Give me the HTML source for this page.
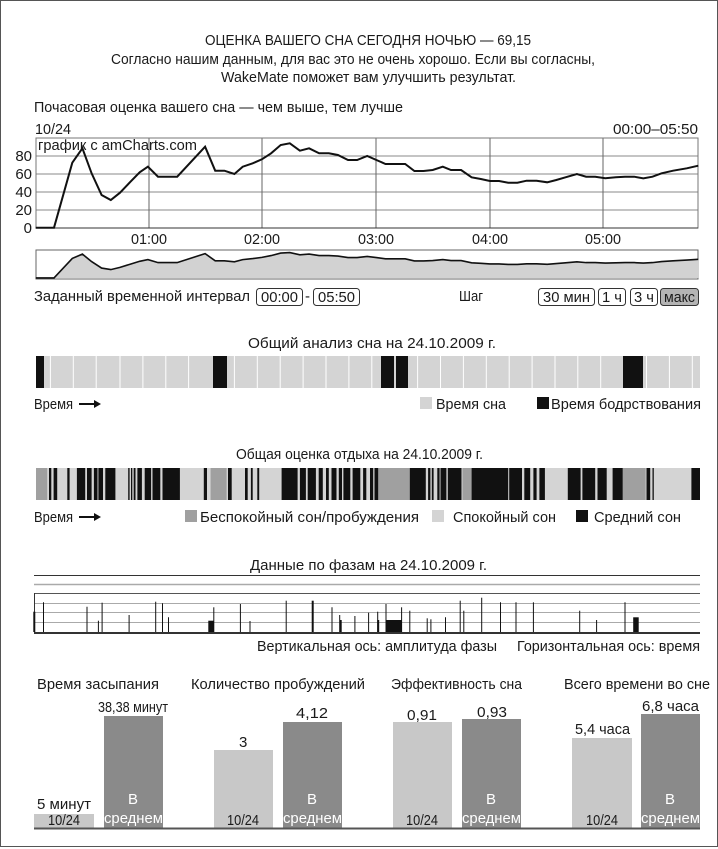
<!DOCTYPE html>
<html><head><meta charset="utf-8"><style>
html,body{margin:0;padding:0;background:#fff}
svg{display:block}
text{font-family:"Liberation Sans Narrow","Liberation Sans",sans-serif;fill:#1a1a1a;font-size:15px}
</style></head><body>
<svg width="718" height="849" viewBox="0 0 718 849" xmlns="http://www.w3.org/2000/svg">
<rect x="0.5" y="0.5" width="717" height="846" fill="#fff" stroke="#555"/>
<!-- header -->
<text x="205" y="45" textLength="326" lengthAdjust="spacingAndGlyphs">ОЦЕНКА ВАШЕГО СНА СЕГОДНЯ НОЧЬЮ — 69,15</text>
<text x="111" y="64" textLength="484" lengthAdjust="spacingAndGlyphs">Согласно нашим данным, для вас это не очень хорошо. Если вы согласны,</text>
<text x="221" y="82" textLength="295" lengthAdjust="spacingAndGlyphs">WakeMate поможет вам улучшить результат.</text>
<text x="34" y="112" textLength="369" lengthAdjust="spacingAndGlyphs">Почасовая оценка вашего сна — чем выше, тем лучше</text>
<text x="35" y="134" textLength="36" lengthAdjust="spacingAndGlyphs">10/24</text>
<text x="613" y="134" textLength="85" lengthAdjust="spacingAndGlyphs">00:00–05:50</text>
<!-- main chart -->
<g stroke="#888" stroke-width="1">
<line x1="36" y1="210" x2="698" y2="210"/><line x1="36" y1="192" x2="698" y2="192"/>
<line x1="36" y1="174" x2="698" y2="174"/><line x1="36" y1="156" x2="698" y2="156"/>
</g>
<g stroke="#666" stroke-width="1">
<line x1="149" y1="138" x2="149" y2="228"/><line x1="262" y1="138" x2="262" y2="228"/>
<line x1="376" y1="138" x2="376" y2="228"/><line x1="490" y1="138" x2="490" y2="228"/>
<line x1="603" y1="138" x2="603" y2="228"/>
</g>
<rect x="36" y="138" width="662" height="90" fill="none" stroke="#777"/>
<line x1="36" y1="228" x2="698" y2="228" stroke="#333"/>
<text x="38" y="150" font-size="14" textLength="159" lengthAdjust="spacingAndGlyphs">график с amCharts.com</text>
<g font-size="15" text-anchor="end">
<text x="32" y="233">0</text><text x="32" y="215">20</text><text x="32" y="197">40</text>
<text x="32" y="179">60</text><text x="32" y="161">80</text>
</g>
<g>
<text x="131" y="244" textLength="36" lengthAdjust="spacingAndGlyphs">01:00</text><text x="244" y="244" textLength="36" lengthAdjust="spacingAndGlyphs">02:00</text><text x="358" y="244" textLength="36" lengthAdjust="spacingAndGlyphs">03:00</text>
<text x="472" y="244" textLength="36" lengthAdjust="spacingAndGlyphs">04:00</text><text x="585" y="244" textLength="36" lengthAdjust="spacingAndGlyphs">05:00</text>
</g>
<polyline fill="none" stroke="#111" stroke-width="2" points="35.7,227.7 54,227.7 72.3,162.7 82.4,148.3 91.6,173.3 101.6,195 110.8,200 120,192.7 130.5,181.7 139.7,172.3 147.9,166.7 158,176.7 177.2,176.7 205.1,146.7 215.2,170.7 224.4,170.7 234.4,174 242.7,166.7 252.7,163.3 261.9,159.3 271.1,153.3 280.7,145 289.8,143.3 299.9,150.7 309.1,148.3 319.1,153.3 328.8,153.3 337.9,155 348,160 357.1,160 367.2,156 376.4,160 385.5,164 405.2,164 414.4,171 423.5,171 432.7,170 442.8,166.7 451,170 461.1,170 471.6,177.3 480.8,179 489.9,181 499.1,181 508.2,182.7 517.4,182.7 526.6,180.7 536.6,180.7 547.2,182.3 556.3,180 565.5,177.3 576.9,174 586.1,176.7 595.2,176.7 605.3,178.3 615.8,177.3 625,176.7 634.2,176.7 643.3,178.3 652.5,176.7 661.6,173.3 673.1,170.7 686.8,168.3 698.3,165.7"/>
<!-- navigator -->
<rect x="36" y="250" width="662" height="29" fill="#fff" stroke="#666"/>
<g transform="translate(0,209.6) scale(1,0.3)">
<polygon fill="#d2d2d2" stroke="none" points="35.7,228 35.7,227.7 54,227.7 72.3,162.7 82.4,148.3 91.6,173.3 101.6,195 110.8,200 120,192.7 130.5,181.7 139.7,172.3 147.9,166.7 158,176.7 177.2,176.7 205.1,146.7 215.2,170.7 224.4,170.7 234.4,174 242.7,166.7 252.7,163.3 261.9,159.3 271.1,153.3 280.7,145 289.8,143.3 299.9,150.7 309.1,148.3 319.1,153.3 328.8,153.3 337.9,155 348,160 357.1,160 367.2,156 376.4,160 385.5,164 405.2,164 414.4,171 423.5,171 432.7,170 442.8,166.7 451,170 461.1,170 471.6,177.3 480.8,179 489.9,181 499.1,181 508.2,182.7 517.4,182.7 526.6,180.7 536.6,180.7 547.2,182.3 556.3,180 565.5,177.3 576.9,174 586.1,176.7 595.2,176.7 605.3,178.3 615.8,177.3 625,176.7 634.2,176.7 643.3,178.3 652.5,176.7 661.6,173.3 673.1,170.7 686.8,168.3 698.3,165.7 698.3,228"/>
<polyline fill="none" stroke="#111" stroke-width="1.6" vector-effect="non-scaling-stroke" points="35.7,227.7 54,227.7 72.3,162.7 82.4,148.3 91.6,173.3 101.6,195 110.8,200 120,192.7 130.5,181.7 139.7,172.3 147.9,166.7 158,176.7 177.2,176.7 205.1,146.7 215.2,170.7 224.4,170.7 234.4,174 242.7,166.7 252.7,163.3 261.9,159.3 271.1,153.3 280.7,145 289.8,143.3 299.9,150.7 309.1,148.3 319.1,153.3 328.8,153.3 337.9,155 348,160 357.1,160 367.2,156 376.4,160 385.5,164 405.2,164 414.4,171 423.5,171 432.7,170 442.8,166.7 451,170 461.1,170 471.6,177.3 480.8,179 489.9,181 499.1,181 508.2,182.7 517.4,182.7 526.6,180.7 536.6,180.7 547.2,182.3 556.3,180 565.5,177.3 576.9,174 586.1,176.7 595.2,176.7 605.3,178.3 615.8,177.3 625,176.7 634.2,176.7 643.3,178.3 652.5,176.7 661.6,173.3 673.1,170.7 686.8,168.3 698.3,165.7"/>
</g>
<!-- controls -->
<text x="34" y="301" textLength="216" lengthAdjust="spacingAndGlyphs">Заданный временной интервал</text>
<rect x="256.5" y="288.5" width="46" height="17" rx="3" fill="none" stroke="#333"/>
<text x="261" y="302" textLength="37" lengthAdjust="spacingAndGlyphs">00:00</text>
<text x="305" y="301">-</text>
<rect x="313.5" y="288.5" width="46" height="17" rx="3" fill="none" stroke="#333"/>
<text x="318" y="302" textLength="37" lengthAdjust="spacingAndGlyphs">05:50</text>
<text x="459" y="301" textLength="24" lengthAdjust="spacingAndGlyphs">Шаг</text>
<rect x="538.5" y="288.5" width="56" height="17" rx="3" fill="none" stroke="#333"/>
<text x="543" y="302" textLength="47" lengthAdjust="spacingAndGlyphs">30 мин</text>
<rect x="598.5" y="288.5" width="27" height="17" rx="3" fill="none" stroke="#333"/>
<text x="602" y="302" textLength="20" lengthAdjust="spacingAndGlyphs">1 ч</text>
<rect x="630.5" y="288.5" width="27" height="17" rx="3" fill="none" stroke="#333"/>
<text x="634" y="302" textLength="20" lengthAdjust="spacingAndGlyphs">3 ч</text>
<rect x="660.5" y="288.5" width="38" height="17" rx="3" fill="#b4b4b4" stroke="#333"/>
<text x="664" y="302" textLength="31" lengthAdjust="spacingAndGlyphs">макс</text>
<!-- section 2 -->
<text x="248" y="348" textLength="248" lengthAdjust="spacingAndGlyphs">Общий анализ сна на 24.10.2009 г.</text>
<rect x="36" y="356" width="664" height="32" fill="#d4d4d4"/>
<g stroke="#fff" stroke-width="1">
<line x1="50.4" y1="356" x2="50.4" y2="388"/><line x1="73.3" y1="356" x2="73.3" y2="388"/><line x1="96.2" y1="356" x2="96.2" y2="388"/><line x1="120" y1="356" x2="120" y2="388"/><line x1="142.9" y1="356" x2="142.9" y2="388"/><line x1="165.8" y1="356" x2="165.8" y2="388"/><line x1="188.6" y1="356" x2="188.6" y2="388"/><line x1="234.4" y1="356" x2="234.4" y2="388"/><line x1="257.3" y1="356" x2="257.3" y2="388"/><line x1="280.2" y1="356" x2="280.2" y2="388"/><line x1="303.1" y1="356" x2="303.1" y2="388"/><line x1="326" y1="356" x2="326" y2="388"/><line x1="348.9" y1="356" x2="348.9" y2="388"/><line x1="371.8" y1="356" x2="371.8" y2="388"/><line x1="417.6" y1="356" x2="417.6" y2="388"/><line x1="440.5" y1="356" x2="440.5" y2="388"/><line x1="463.4" y1="356" x2="463.4" y2="388"/><line x1="486.3" y1="356" x2="486.3" y2="388"/><line x1="509.2" y1="356" x2="509.2" y2="388"/><line x1="532.1" y1="356" x2="532.1" y2="388"/><line x1="555" y1="356" x2="555" y2="388"/><line x1="577.8" y1="356" x2="577.8" y2="388"/><line x1="600.7" y1="356" x2="600.7" y2="388"/><line x1="646.5" y1="356" x2="646.5" y2="388"/><line x1="669.4" y1="356" x2="669.4" y2="388"/><line x1="692.3" y1="356" x2="692.3" y2="388"/>
</g>
<g fill="#111">
<rect x="36" y="356" width="8" height="32"/><rect x="213" y="356" width="14" height="32"/>
<rect x="381" y="356" width="13" height="32"/><rect x="396" y="356" width="12" height="32"/>
<rect x="623" y="356" width="20" height="32"/>
</g>
<text x="34" y="409" textLength="39" lengthAdjust="spacingAndGlyphs">Время</text>
<line x1="79" y1="404" x2="96" y2="404" stroke="#111" stroke-width="2"/><polygon points="94,400 101,404 94,408" fill="#111"/>
<rect x="420" y="397" width="12" height="12" fill="#d4d4d4"/>
<text x="436" y="409" textLength="70" lengthAdjust="spacingAndGlyphs">Время сна</text>
<rect x="537" y="397" width="12" height="12" fill="#111"/>
<text x="551" y="409" textLength="150" lengthAdjust="spacingAndGlyphs">Время бодрствования</text>
<!-- section 3 -->
<text x="236" y="459" textLength="247" lengthAdjust="spacingAndGlyphs">Общая оценка отдыха на 24.10.2009 г.</text>
<rect x="36" y="468" width="664" height="32" fill="#d4d4d4"/>
<g fill="#a0a0a0">
<rect x="36" y="468" width="11.2" height="32"/><rect x="210.6" y="468" width="16" height="32"/>
<rect x="378.2" y="468" width="31.6" height="32"/><rect x="462.5" y="468" width="9.1" height="32"/>
<rect x="622.7" y="468" width="22.9" height="32"/>
</g>
<g fill="#111">
<rect x="49" y="468" width="2.3" height="32"/><rect x="53.6" y="468" width="3.6" height="32"/><rect x="67.3" y="468" width="2.3" height="32"/><rect x="76.9" y="468" width="8.3" height="32"/><rect x="87" y="468" width="4.6" height="32"/><rect x="93.9" y="468" width="3.6" height="32"/><rect x="98.4" y="468" width="4.6" height="32"/><rect x="105.3" y="468" width="10.1" height="32"/>
<rect x="128.2" y="468" width="1.4" height="32"/><rect x="131" y="468" width="1.3" height="32"/><rect x="133.7" y="468" width="1.8" height="32"/><rect x="137.4" y="468" width="4.5" height="32"/><rect x="144.7" y="468" width="6.4" height="32"/><rect x="152.5" y="468" width="7.8" height="32"/><rect x="162.5" y="468" width="17.4" height="32"/>
<rect x="203.8" y="468" width="3.2" height="32"/><rect x="228" y="468" width="3.7" height="32"/><rect x="245" y="468" width="2.7" height="32"/><rect x="250.9" y="468" width="1.8" height="32"/><rect x="257.3" y="468" width="1.9" height="32"/>
<rect x="281.6" y="468" width="16" height="32"/><rect x="299.9" y="468" width="6" height="32"/><rect x="307.7" y="468" width="8.2" height="32"/><rect x="318.7" y="468" width="4.1" height="32"/><rect x="326" y="468" width="2.8" height="32"/><rect x="331.5" y="468" width="5" height="32"/><rect x="338.8" y="468" width="3.2" height="32"/><rect x="343.4" y="468" width="6.9" height="32"/><rect x="352.6" y="468" width="7.7" height="32"/><rect x="363.1" y="468" width="3.2" height="32"/><rect x="370" y="468" width="3.2" height="32"/><rect x="374.5" y="468" width="3.7" height="32"/>
<rect x="409.8" y="468" width="16" height="32"/><rect x="428.1" y="468" width="2.3" height="32"/><rect x="431.8" y="468" width="1.8" height="32"/><rect x="437.3" y="468" width="2.3" height="32"/><rect x="440.5" y="468" width="5.9" height="32"/><rect x="447.8" y="468" width="13.7" height="32"/>
<rect x="471.6" y="468" width="36.6" height="32"/><rect x="509.2" y="468" width="12.8" height="32"/><rect x="524.3" y="468" width="5.9" height="32"/><rect x="533.4" y="468" width="3.2" height="32"/><rect x="539.4" y="468" width="5.5" height="32"/>
<rect x="567.8" y="468" width="12.8" height="32"/><rect x="582.4" y="468" width="12.8" height="32"/><rect x="597.5" y="468" width="9.2" height="32"/><rect x="612.6" y="468" width="10.1" height="32"/>
<rect x="646.5" y="468" width="3.7" height="32"/><rect x="652.5" y="468" width="1.3" height="32"/><rect x="691.4" y="468" width="8.6" height="32"/>
</g>
<text x="34" y="522" textLength="39" lengthAdjust="spacingAndGlyphs">Время</text>
<line x1="79" y1="517" x2="96" y2="517" stroke="#111" stroke-width="2"/><polygon points="94,513 101,517 94,521" fill="#111"/>
<rect x="185" y="510" width="12" height="12" fill="#a0a0a0"/>
<text x="200" y="522" textLength="219" lengthAdjust="spacingAndGlyphs">Беспокойный сон/пробуждения</text>
<rect x="432" y="510" width="12" height="12" fill="#d4d4d4"/>
<text x="453" y="522" textLength="103" lengthAdjust="spacingAndGlyphs">Спокойный сон</text>
<rect x="576" y="510" width="12" height="12" fill="#111"/>
<text x="594" y="522" textLength="87" lengthAdjust="spacingAndGlyphs">Средний сон</text>
<!-- section 4 -->
<text x="250" y="570" textLength="237" lengthAdjust="spacingAndGlyphs">Данные по фазам на 24.10.2009 г.</text>
<line x1="34" y1="575.5" x2="700" y2="575.5" stroke="#333"/>
<line x1="34" y1="584.5" x2="700" y2="584.5" stroke="#aaa" stroke-width="1.5"/>
<line x1="34" y1="593.5" x2="700" y2="593.5" stroke="#555"/>
<g stroke="#aaa"><line x1="34" y1="603.5" x2="700" y2="603.5"/><line x1="34" y1="612.5" x2="700" y2="612.5"/><line x1="34" y1="622.5" x2="700" y2="622.5"/></g>
<line x1="34.5" y1="593" x2="34.5" y2="633" stroke="#333"/>
<g stroke="#111" stroke-width="1">
<line x1="34.3" y1="611.7" x2="34.3" y2="632" stroke-width="2"/><line x1="43.5" y1="602.3" x2="43.5" y2="632"/><line x1="87" y1="606.7" x2="87" y2="632"/><line x1="98.4" y1="620.7" x2="98.4" y2="632"/><line x1="102.1" y1="602.7" x2="102.1" y2="632"/><line x1="129.1" y1="615" x2="129.1" y2="632"/><line x1="155.7" y1="601.7" x2="155.7" y2="632"/><line x1="162.5" y1="603.3" x2="162.5" y2="632"/><line x1="168.5" y1="617.3" x2="168.5" y2="632"/><line x1="213.8" y1="607.3" x2="213.8" y2="632"/><line x1="240.4" y1="604" x2="240.4" y2="632"/><line x1="250" y1="621" x2="250" y2="632"/><line x1="286.2" y1="600.7" x2="286.2" y2="632"/><line x1="312.7" y1="600.7" x2="312.7" y2="632" stroke-width="2"/><line x1="332" y1="607.3" x2="332" y2="632"/><line x1="339.7" y1="615" x2="339.7" y2="632"/><line x1="340.7" y1="620" x2="340.7" y2="632" stroke-width="2"/><line x1="354.9" y1="616" x2="354.9" y2="632"/><line x1="368.6" y1="612.7" x2="368.6" y2="632"/><line x1="377.7" y1="611.7" x2="377.7" y2="632"/><line x1="378.2" y1="620" x2="378.2" y2="632" stroke-width="2"/><line x1="386" y1="604" x2="386" y2="632"/><line x1="401.6" y1="607.3" x2="401.6" y2="632"/><line x1="409.8" y1="610.7" x2="409.8" y2="632"/><line x1="427.2" y1="618.3" x2="427.2" y2="632"/><line x1="430.9" y1="619.3" x2="430.9" y2="632"/><line x1="445.5" y1="617.3" x2="445.5" y2="632"/><line x1="460.2" y1="600.7" x2="460.2" y2="632"/><line x1="463.8" y1="610.7" x2="463.8" y2="632"/><line x1="481.7" y1="597.7" x2="481.7" y2="632"/><line x1="500.5" y1="602.3" x2="500.5" y2="632"/><line x1="516" y1="602.3" x2="516" y2="632"/><line x1="533.4" y1="602.3" x2="533.4" y2="632"/><line x1="579.7" y1="610.7" x2="579.7" y2="632"/><line x1="596.6" y1="620" x2="596.6" y2="632"/><line x1="625" y1="602.3" x2="625" y2="632"/>
</g>
<g fill="#111">
<rect x="208.3" y="620.7" width="5.5" height="12"/><rect x="386" y="620" width="15.6" height="12"/><rect x="633.2" y="617.3" width="5.5" height="15"/>
</g>
<line x1="34" y1="633" x2="700" y2="633" stroke="#333" stroke-width="2"/>
<text x="257" y="651" textLength="240" lengthAdjust="spacingAndGlyphs">Вертикальная ось: амплитуда фазы</text>
<text x="517" y="651" textLength="183" lengthAdjust="spacingAndGlyphs">Горизонтальная ось: время</text>
<!-- section 5 -->
<text x="37" y="689" textLength="122" lengthAdjust="spacingAndGlyphs">Время засыпания</text>
<text x="191" y="689" textLength="174" lengthAdjust="spacingAndGlyphs">Количество пробуждений</text>
<text x="391" y="689" textLength="131" lengthAdjust="spacingAndGlyphs">Эффективность сна</text>
<text x="564" y="689" textLength="146" lengthAdjust="spacingAndGlyphs">Всего времени во сне</text>
<g fill="#c8c8c8">
<rect x="34" y="814" width="60" height="14"/><rect x="214" y="750" width="59" height="78"/>
<rect x="393" y="722" width="59" height="106"/><rect x="572" y="738" width="60" height="90"/>
</g>
<g fill="#8a8a8a">
<rect x="104" y="716" width="59" height="112"/><rect x="283" y="722" width="59" height="106"/>
<rect x="462" y="719" width="59" height="109"/><rect x="641" y="714" width="59" height="114"/>
</g>
<line x1="34" y1="828.5" x2="700" y2="828.5" stroke="#555" stroke-width="2"/>
<text x="98" y="712" textLength="70" lengthAdjust="spacingAndGlyphs">38,38 минут</text>
<text x="37" y="809" textLength="54" lengthAdjust="spacingAndGlyphs">5 минут</text>
<text x="239" y="747">3</text>
<text x="296" y="718" textLength="32" lengthAdjust="spacingAndGlyphs">4,12</text>
<text x="407" y="720" textLength="30" lengthAdjust="spacingAndGlyphs">0,91</text>
<text x="477" y="717" textLength="30" lengthAdjust="spacingAndGlyphs">0,93</text>
<text x="575" y="734" textLength="55" lengthAdjust="spacingAndGlyphs">5,4 часа</text>
<text x="642" y="711" textLength="57" lengthAdjust="spacingAndGlyphs">6,8 часа</text>
<g font-size="13">
<text x="48" y="825" textLength="32" lengthAdjust="spacingAndGlyphs">10/24</text>
<text x="227" y="825" textLength="32" lengthAdjust="spacingAndGlyphs">10/24</text>
<text x="406" y="825" textLength="32" lengthAdjust="spacingAndGlyphs">10/24</text>
<text x="586" y="825" textLength="32" lengthAdjust="spacingAndGlyphs">10/24</text>
</g>
<g>
<text x="128" y="804" style="fill:#fff">В</text><text x="104" y="823" style="fill:#fff" textLength="59" lengthAdjust="spacingAndGlyphs">среднем</text>
<text x="307" y="804" style="fill:#fff">В</text><text x="283" y="823" style="fill:#fff" textLength="59" lengthAdjust="spacingAndGlyphs">среднем</text>
<text x="486" y="804" style="fill:#fff">В</text><text x="462" y="823" style="fill:#fff" textLength="59" lengthAdjust="spacingAndGlyphs">среднем</text>
<text x="665" y="804" style="fill:#fff">В</text><text x="641" y="823" style="fill:#fff" textLength="59" lengthAdjust="spacingAndGlyphs">среднем</text>
</g>
</svg>
</body></html>
